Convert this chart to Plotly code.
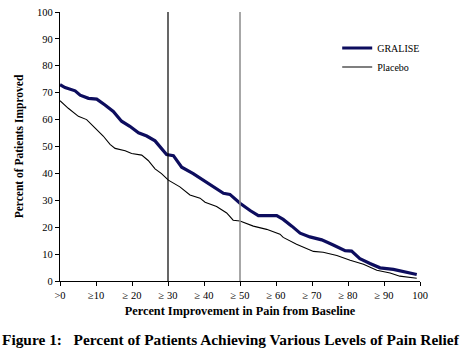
import plotly.graph_objects as go

gralise_x = [0, 1.4, 4.2, 5.6, 7.9, 10.2, 12.5, 14.8, 17.1, 19.4, 21.8, 24.1, 26.4, 28.2, 29.6, 31.5, 33.8, 37,
             39.8, 42.6, 45.4, 47.2, 50, 52.8, 55.1, 60.2, 62, 64.4, 66.7, 69.4, 72.7, 75.9, 79.2, 81, 83.3,
             86.1, 88.9, 92.6, 95.4, 99.1]
gralise_y = [73, 71.9, 70.7, 69.1, 67.9, 67.6, 65.4, 63, 59.4, 57.5, 55.1, 53.9, 52.1, 49, 47, 46.6, 42.3, 39.9,
             37.5, 35, 32.6, 32.2, 28.9, 26.2, 24.3, 24.3, 22.9, 20.4, 17.8, 16.4, 15.3, 13.4, 11.3, 11.1, 8.3,
             6.5, 4.9, 4.3, 3.4, 2.4]

placebo_x = [0, 2.3, 5.1, 7.4, 9.7, 12, 13.9, 15.3, 18.1, 19.9, 22.7, 24.5, 26.4, 28.2, 30.1, 33.3, 36.1, 38.9,
             40.3, 43.5, 46.3, 48.1, 50, 53.7, 57.4, 61.1, 62, 65.7, 70.4, 73.1, 76.9, 80.6, 84.3, 88, 91.7,
             94.4, 99.1]
placebo_y = [67, 64.2, 61.2, 60, 56.9, 53.9, 50.8, 49.3, 48.4, 47.4, 46.8, 44.8, 41.7, 39.9, 37.5, 35, 32, 30.8,
             29.3, 27.7, 25.3, 22.6, 22.3, 20.4, 19.2, 17.4, 16.2, 13.7, 11, 10.7, 9.5, 7.7, 6.2, 4, 3,
             1.8, 1]

x_tickvals = [0, 10, 20, 30, 40, 50, 60, 70, 80, 90, 100]
x_ticktext = [">0", "≥10", "≥ 20", "≥ 30", "≥ 40", "≥ 50", "≥ 60", "≥ 70", "≥ 80", "≥ 90", "100"]
y_tickvals = [0, 10, 20, 30, 40, 50, 60, 70, 80, 90, 100]

serif = "Liberation Serif, Times New Roman, serif"

fig = go.Figure()
fig.add_trace(go.Scatter(x=gralise_x, y=gralise_y, mode="lines", name="GRALISE",
                         line=dict(color="#0d0d5e", width=3.2)))
fig.add_trace(go.Scatter(x=placebo_x, y=placebo_y, mode="lines", name="Placebo",
                         line=dict(color="#000000", width=1.1)))

fig.add_shape(type="line", x0=30, x1=30, y0=0, y1=100, xref="x", yref="y",
              line=dict(color="#000000", width=1.2))
fig.add_shape(type="line", x0=50, x1=50, y0=0, y1=100, xref="x", yref="y",
              line=dict(color="#8a8a8a", width=1.5))

fig.update_layout(
    width=462, height=352,
    margin=dict(l=60, r=42, t=7, b=71),
    paper_bgcolor="white", plot_bgcolor="white",
    font=dict(family=serif, color="black", size=10),
    showlegend=True,
    legend=dict(x=0.77, y=0.92, xanchor="left", yanchor="top",
                font=dict(family=serif, size=10, color="black"),
                bgcolor="rgba(0,0,0,0)", tracegroupgap=0, itemwidth=30),
    xaxis=dict(range=[0, 100], tickvals=x_tickvals, ticktext=x_ticktext,
               showline=True, linecolor="black", linewidth=1.3, ticks="outside",
               ticklen=4, tickcolor="black", showgrid=False, zeroline=False,
               tickfont=dict(family=serif, size=10.5),
               title=dict(text="<b>Percent Improvement in Pain from Baseline</b>",
                          font=dict(family=serif, size=12.3), standoff=6)),
    yaxis=dict(range=[0, 100], tickvals=y_tickvals,
               showline=True, linecolor="black", linewidth=1.3, ticks="outside",
               ticklen=4, tickcolor="black", showgrid=False, zeroline=False,
               tickfont=dict(family=serif, size=10.5),
               title=dict(text="<b>Percent of Patients Improved</b>",
                          font=dict(family=serif, size=11.5), standoff=10)),
)

fig.add_annotation(text="<b>Figure 1:   Percent of Patients Achieving Various Levels of Pain Relief</b>",
                   xref="paper", yref="paper", x=-0.166, y=-0.219, xanchor="left", yanchor="middle",
                   showarrow=False, font=dict(family=serif, size=15.4, color="black"))

fig.write_html("out.html")
